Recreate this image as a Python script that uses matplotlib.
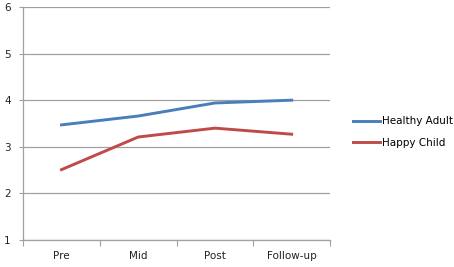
import numpy as np
import matplotlib.pyplot as plt

categories = ["Pre", "Mid", "Post", "Follow-up"]
healthy_adult = [3.47, 3.66, 3.94, 4.0]
happy_child = [2.51, 3.21, 3.40, 3.27]

fig = plt.figure(figsize=(4.54, 2.67), dpi=100)
ax = fig.add_axes([0.051, 0.101, 0.676, 0.873])

x = np.arange(len(categories)) + 0.5
ax.plot(x, healthy_adult, color="#4A7EBB", lw=2.1, label="Healthy Adult")
ax.plot(x, happy_child, color="#BE4B48", lw=2.1, label="Happy Child")

ax.set_xlim(0, len(categories))
ax.set_ylim(1, 6)
ax.set_yticks(range(1, 7))
ax.set_xticks(range(len(categories) + 1))
ax.set_xticklabels([])
ax.set_xticks(x, minor=True)
ax.set_xticklabels(categories, minor=True)
ax.tick_params(axis="x", which="minor", length=0, pad=8)
ax.tick_params(axis="x", which="major", length=4, color="#A0A0A0", direction="out")
ax.tick_params(axis="y", length=3, color="#A0A0A0", pad=6)
ax.tick_params(which="both", labelsize=7.5, labelcolor="#222222")

ax.grid(axis="y", color="#A0A0A0", lw=0.9)
ax.set_axisbelow(True)
for s in ["top", "right"]:
    ax.spines[s].set_visible(False)
for s in ["left", "bottom"]:
    ax.spines[s].set_color("#A0A0A0")
    ax.spines[s].set_linewidth(0.9)

fig.legend(loc="upper left", bbox_to_anchor=(0.757, 0.6), frameon=False,
           fontsize=7.5, handlelength=2.6, handletextpad=0.15, labelspacing=1.1)

fig.savefig("out.png", dpi=100)
